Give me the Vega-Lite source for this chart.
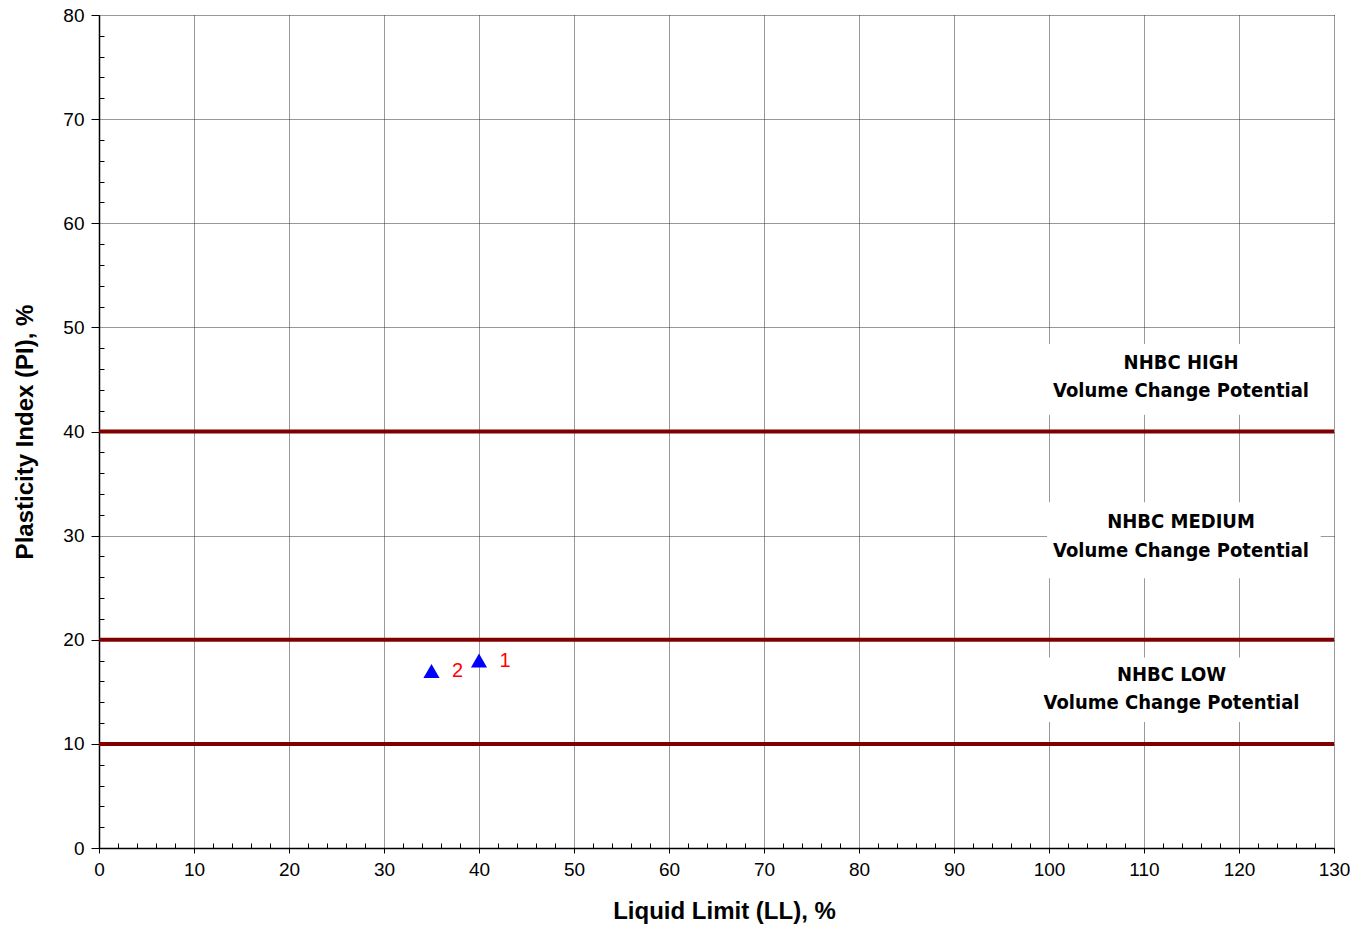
{
  "$schema": "https://vega.github.io/schema/vega-lite/v6.json",
  "width": 1235,
  "height": 833,
  "autosize": {"type": "none"},
  "padding": {"left": 99, "top": 15, "right": 17, "bottom": 80},
  "background": "white",
  "config": {
    "view": {"stroke": null},
    "axis": {"labelFont": "Liberation Sans", "titleFont": "Liberation Sans"}
  },
  "datasets": {
    "boxes": [
      {"band": "HIGH", "x1": 99.8, "x2": 128.6, "y1": 41.6, "y2": 48.4},
      {"band": "MEDIUM", "x1": 99.8, "x2": 128.6, "y1": 25.9, "y2": 33.2},
      {"band": "LOW", "x1": 99.8, "x2": 128.6, "y1": 12.1, "y2": 18.3}
    ],
    "limits": [{"pi": 10}, {"pi": 20}, {"pi": 40}],
    "samples": [
      {"id": "1", "ll": 40, "pi": 18},
      {"id": "2", "ll": 35, "pi": 17}
    ],
    "bandtext": [
      {"text": "NHBC HIGH", "ll": 113.9, "pi": 46.6},
      {"text": "Volume Change Potential", "ll": 113.9, "pi": 43.9},
      {"text": "NHBC MEDIUM", "ll": 113.9, "pi": 31.3},
      {"text": "Volume Change Potential", "ll": 113.9, "pi": 28.5},
      {"text": "NHBC LOW", "ll": 112.9, "pi": 16.6},
      {"text": "Volume Change Potential", "ll": 112.9, "pi": 13.9}
    ]
  },
  "layer": [
    {
      "data": {"name": "boxes"},
      "mark": {"type": "rect", "fill": "white", "stroke": null},
      "encoding": {
        "x": {
          "field": "x1", "type": "quantitative",
          "scale": {"domain": [0, 130], "nice": false, "zero": false},
          "axis": {
            "values": [0, 10, 20, 30, 40, 50, 60, 70, 80, 90, 100, 110, 120, 130],
            "title": "Liquid Limit (LL), %",
            "titleFontSize": 24, "titleFontWeight": "bold", "titleColor": "black", "titlePadding": 20, "titleX": 625,
            "labelFontSize": 19, "labelColor": "black", "labelPadding": 7, "labelFlush": false,
            "tickSize": 5, "tickColor": "black", "domainColor": "black", "domainWidth": 1.5,
            "grid": true, "gridColor": "#333", "gridDash": [1, 1], "gridWidth": 1
          }
        },
        "x2": {"field": "x2"},
        "y": {
          "field": "y1", "type": "quantitative",
          "scale": {"domain": [0, 80], "nice": false, "zero": false},
          "axis": {
            "values": [0, 10, 20, 30, 40, 50, 60, 70, 80],
            "title": "Plasticity Index (PI), %",
            "titleFontSize": 24, "titleFontWeight": "bold", "titleColor": "black", "titlePadding": 25,
            "labelFontSize": 19, "labelColor": "black", "labelPadding": 7, "labelFlush": false,
            "tickSize": 8, "tickColor": "black", "domainColor": "black", "domainWidth": 1.5,
            "grid": true, "gridColor": "#333", "gridDash": [1, 1], "gridWidth": 1
          }
        },
        "y2": {"field": "y2"}
      }
    },
    {
      "data": {"name": "limits"},
      "mark": {"type": "rule", "color": "#800000", "strokeWidth": 4},
      "encoding": {
        "y": {"field": "pi", "type": "quantitative", "axis": {
          "values": [2,4,6,8,12,14,16,18,22,24,26,28,32,34,36,38,42,44,46,48,52,54,56,58,62,64,66,68,72,74,76,78],
          "orient": "left", "labels": false, "title": null, "domain": false, "grid": false,
          "tickSize": -5, "tickColor": "black"
        }}
      }
    },
    {
      "data": {"name": "samples"},
      "mark": {"type": "point", "shape": "triangle-up", "filled": true, "color": "#0000ff", "size": 260, "opacity": 1},
      "encoding": {
        "x": {"field": "ll", "type": "quantitative", "axis": {
          "values": [2,4,6,8,12,14,16,18,22,24,26,28,32,34,36,38,42,44,46,48,52,54,56,58,62,64,66,68,72,74,76,78,82,84,86,88,92,94,96,98,102,104,106,108,112,114,116,118,122,124,126,128],
          "orient": "bottom", "labels": false, "title": null, "domain": false, "grid": false,
          "tickSize": -5, "tickColor": "black"
        }},
        "y": {"field": "pi", "type": "quantitative", "axis": null}
      }
    },
    {
      "data": {"name": "samples"},
      "mark": {"type": "text", "color": "#ff0000", "font": "Liberation Sans", "fontSize": 20, "dx": 26, "dy": 0, "align": "center", "baseline": "middle"},
      "encoding": {
        "x": {"field": "ll", "type": "quantitative", "axis": null},
        "y": {"field": "pi", "type": "quantitative", "axis": null},
        "text": {"field": "id"}
      }
    },
    {
      "data": {"name": "bandtext"},
      "mark": {"type": "text", "color": "black", "font": "DejaVu Sans Condensed", "fontWeight": "bold", "fontSize": 20, "align": "center", "baseline": "middle"},
      "encoding": {
        "x": {"field": "ll", "type": "quantitative", "axis": null},
        "y": {"field": "pi", "type": "quantitative", "axis": null},
        "text": {"field": "text"}
      }
    }
  ],
  "resolve": {"axis": {"x": "independent", "y": "independent"}}
}
